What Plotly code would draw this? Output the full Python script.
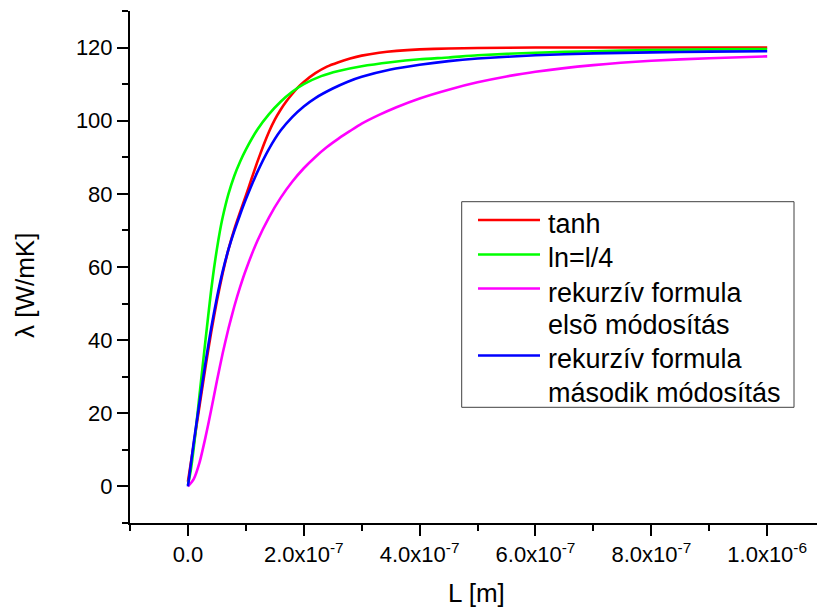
import plotly.graph_objects as go

# x values in metres, y values in W/mK
x_red = [0, 1e-8, 2e-8, 3e-8, 4e-8, 5e-8, 6e-8, 7e-8, 8e-8, 9e-8, 1.0e-7, 1.1e-7, 1.2e-7, 1.3e-7,
         1.4e-7, 1.5e-7, 1.6e-7, 1.7e-7, 1.8e-7, 1.9e-7, 2.0e-7, 2.2e-7, 2.4e-7, 2.6e-7, 2.8e-7,
         3.0e-7, 3.3e-7, 3.6e-7, 4.0e-7, 4.5e-7, 5.0e-7, 6.0e-7, 8.0e-7, 1.0e-6]
y_red = [1.3, 11.5, 22, 32.3, 42, 50.7, 58.3, 64.8, 70.3, 75, 79.5, 84.2, 88.8, 93.1,
         97.0, 100.3, 103.0, 105.3, 107.3, 109.1, 110.6, 113.0, 114.8, 116.0, 117.0,
         117.8, 118.6, 119.1, 119.5, 119.75, 119.9, 120, 120, 120]

x_green = [0, 5e-9, 1e-8, 1.5e-8, 2e-8, 2.5e-8, 3e-8, 3.5e-8, 4e-8, 4.5e-8, 5e-8, 5.5e-8, 6e-8,
           7e-8, 8e-8, 9e-8, 1.0e-7, 1.2e-7, 1.4e-7, 1.6e-7, 1.8e-7, 2.0e-7, 2.3e-7, 2.6e-7,
           3.0e-7, 3.5e-7, 4.0e-7, 4.5e-7, 5.0e-7, 6.0e-7, 7.0e-7, 8.0e-7, 9.0e-7, 1.0e-6]
y_green = [0.3, 4.5, 10.5, 17.5, 25, 32.3, 39.5, 46.6, 53.5, 59.6, 64.9, 69.6, 73.6,
           80.0, 84.9, 88.8, 92.1, 97.6, 101.8, 105.2, 107.9, 110.0, 112.2, 113.6,
           114.9, 116.0, 116.8, 117.3, 117.9, 118.6, 119.0, 119.3, 119.5, 119.6]

x_magenta = [0, 1e-8, 2e-8, 3e-8, 4e-8, 5e-8, 6e-8, 7e-8, 8e-8, 9e-8, 1.0e-7, 1.2e-7, 1.4e-7,
             1.6e-7, 1.8e-7, 2.0e-7, 2.2e-7, 2.4e-7, 2.6e-7, 2.8e-7, 3.0e-7, 3.3e-7, 3.6e-7,
             4.0e-7, 4.5e-7, 5.0e-7, 5.5e-7, 6.0e-7, 7.0e-7, 8.0e-7, 9.0e-7, 1.0e-6]
y_magenta = [0, 2, 6.5, 13.2, 20.8, 28.8, 36.4, 43.2, 49.2, 54.5, 59.2, 67.2, 73.6,
             78.9, 83.3, 87.0, 90.1, 92.8, 95.1, 97.2, 99.2, 101.6, 103.7,
             106.1, 108.5, 110.5, 112.1, 113.4, 115.2, 116.4, 117.1, 117.6]

x_blue = [0, 1e-8, 2e-8, 3e-8, 4e-8, 5e-8, 6e-8, 7e-8, 8e-8, 9e-8, 1.0e-7, 1.2e-7, 1.4e-7, 1.6e-7,
          1.8e-7, 2.0e-7, 2.2e-7, 2.5e-7, 2.75e-7, 3.0e-7, 3.5e-7, 4.0e-7, 4.5e-7, 5.0e-7, 6.0e-7,
          7.0e-7, 8.0e-7, 9.0e-7, 1.0e-6]
y_blue = [0, 12, 23, 33.5, 43.2, 51.6, 58.8, 64.8, 69.8, 74.3, 78.5, 86.0, 92.3, 97.3,
          101.0, 103.9, 106.2, 108.8, 110.6, 112.0, 114.0, 115.3, 116.3, 117.0, 117.9,
          118.4, 118.7, 118.9, 119.0]

names = ["tanh", "ln=l/4", "rekurzív formula", "elsõ módosítás", "rekurzív formula", "második módosítás"]
colors = ["#FF0000", "#00FF00", "#FF00FF", "#0000FF"]

x_tickvals = [0, 2e-7, 4e-7, 6e-7, 8e-7, 1e-6]
x_ticktext = ["0.0", "2.0x10<sup>-7</sup>", "4.0x10<sup>-7</sup>", "6.0x10<sup>-7</sup>",
              "8.0x10<sup>-7</sup>", "1.0x10<sup>-6</sup>"]
y_tickvals = [0, 20, 40, 60, 80, 100, 120]

FONT = "Arial, Liberation Sans, sans-serif"

# pixel geometry helpers for the plot area (l=130, r=0 on width 817; t=11, b=87 on height 610)
PL, PW, PT, PH = 130, 687, 11, 512


def px(xp):
    return (xp - PL) / PW


def py(yp):
    return (PT + PH - yp) / PH


fig = go.Figure()
series = [(x_red, y_red, colors[0]), (x_green, y_green, colors[1]),
          (x_magenta, y_magenta, colors[2]), (x_blue, y_blue, colors[3])]
for xs, ys, c in series:
    fig.add_trace(go.Scatter(x=xs, y=ys, mode="lines", showlegend=False,
                             line=dict(color=c, width=2.6, shape="spline", smoothing=0.6)))

# manual legend (box, sample lines, labels)
shapes = [dict(type="rect", xref="paper", yref="paper", x0=px(461.7), x1=px(794), y0=py(407.3), y1=py(201.7),
               line=dict(color="#404040", width=1), fillcolor="white", layer="above")]
line_rows = [220, 254.5, 288.5, 355.5]
for yy, c in zip(line_rows, colors):
    shapes.append(dict(type="line", xref="paper", yref="paper", x0=px(478), x1=px(540), y0=py(yy), y1=py(yy),
                       line=dict(color=c, width=2.6), layer="above"))

text_rows = [221.5, 255.5, 290, 322, 356.5, 390]
annotations = []
for t, yy in zip(names, text_rows):
    annotations.append(dict(text=t, xref="paper", yref="paper", x=px(546), y=py(yy + 2.5),
                            xanchor="left", yanchor="middle", showarrow=False,
                            font=dict(family=FONT, size=27, color="black")))

annotations += [
    dict(text="λ [W/mK]", xref="paper", yref="paper", x=px(25), y=py(286),
         xanchor="center", yanchor="middle", textangle=-90, showarrow=False,
         font=dict(family=FONT, size=26, color="black")),
    dict(text="L [m]", xref="paper", yref="paper", x=px(476), y=py(593),
         xanchor="center", yanchor="middle", showarrow=False,
         font=dict(family=FONT, size=26, color="black")),
]

fig.update_layout(
    width=817, height=610,
    margin=dict(l=130, r=0, t=11, b=87),
    paper_bgcolor="white", plot_bgcolor="white",
    font=dict(family=FONT, color="black", size=22),
    showlegend=False,
    shapes=shapes,
    annotations=annotations,
    xaxis=dict(range=[-1e-7, 1.086e-6], showgrid=False, zeroline=False,
               showline=True, linecolor="black", linewidth=2,
               ticks="outside", ticklen=11, tickwidth=2, tickcolor="black",
               tickvals=x_tickvals, ticktext=x_ticktext,
               tickfont=dict(family=FONT, size=22, color="black"),
               minor=dict(ticks="outside", ticklen=6, tickwidth=2, tickcolor="black",
                          dtick=1e-7, tick0=0, showgrid=False)),
    yaxis=dict(range=[-10, 130], showgrid=False, zeroline=False,
               showline=True, linecolor="black", linewidth=2,
               ticks="outside", ticklen=11, tickwidth=2, tickcolor="black",
               tickvals=y_tickvals,
               tickfont=dict(family=FONT, size=22, color="black"),
               minor=dict(ticks="outside", ticklen=6, tickwidth=2, tickcolor="black",
                          dtick=10, tick0=0, showgrid=False)),
)

fig.write_html("out.html")
